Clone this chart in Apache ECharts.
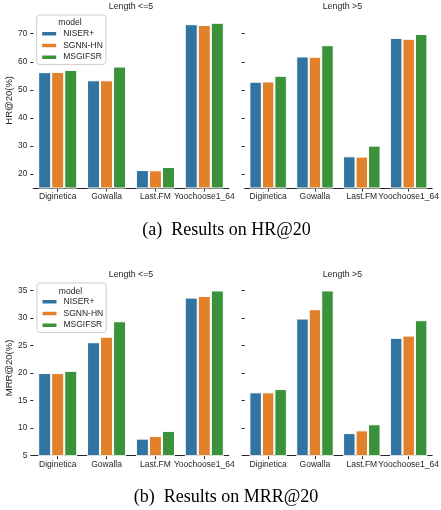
<!DOCTYPE html>
<html>
<head>
<meta charset="utf-8">
<script src="https://cdn.jsdelivr.net/npm/echarts@6/dist/echarts.min.js"></script>
<style>
  html, body { margin: 0; padding: 0; background: #fff; }
  #chart { width: 441px; height: 510px; }
</style>
</head>
<body>
<div id="chart"></div>
<script>
// Datasets and models
const categories = ['Diginetica', 'Gowalla', 'Last.FM', 'Yoochoose1_64'];
const models = ['NISER+', 'SGNN-HN', 'MSGIFSR'];

// HR@20 (%) for session length <= 5
const hrShortNiser = [56.3, 53.4, 21.4, 73.4];
const hrShortSgnn = [56.4, 53.4, 21.3, 73.1];
const hrShortMsgifsr = [57.1, 58.3, 22.5, 73.9];
// HR@20 (%) for session length > 5
const hrLongNiser = [52.9, 61.9, 26.3, 68.5];
const hrLongSgnn = [53.0, 61.8, 26.2, 68.2];
const hrLongMsgifsr = [55.0, 65.9, 30.1, 69.9];

// MRR@20 (%) for session length <= 5
const mrrShortNiser = [20.0, 25.6, 8.1, 33.7];
const mrrShortSgnn = [20.0, 26.6, 8.6, 34.0];
const mrrShortMsgifsr = [20.4, 29.4, 9.5, 35.0];
// MRR@20 (%) for session length > 5
const mrrLongNiser = [16.5, 29.9, 9.1, 26.4];
const mrrLongSgnn = [16.5, 31.6, 9.6, 26.8];
const mrrLongMsgifsr = [17.1, 35.0, 10.7, 29.6];

// Tick values on the y axes
const hrTicks = [20, 30, 40, 50, 60, 70];
const mrrTicks = [5, 10, 15, 20, 25, 30, 35];

const colors = ['#3274a1', '#e1812c', '#3a923a'];
const FONT = '"Liberation Sans", Arial, sans-serif';
const SERIF = '"Liberation Serif", "DejaVu Serif", serif';
const INK = '#262626';

const chart = echarts.init(document.getElementById('chart'), null, { renderer: 'canvas' });

// Panel geometry and y ranges
const panels = [
  { left: 33.3, top: 12.7, width: 195.4, height: 175.3, min: 15, max: 77.5, ticks: hrTicks, name: 'HR@20(%)', nameGap: 12, showLabels: true },
  { left: 244.7, top: 12.7, width: 195.4, height: 175.3, min: 15, max: 77.5, ticks: hrTicks, name: '', showLabels: false },
  { left: 33.3, top: 280.2, width: 195.4, height: 175.5, min: 5, max: 36.86, ticks: mrrTicks, name: 'MRR@20(%)', nameGap: 14, showLabels: true },
  { left: 244.7, top: 280.2, width: 195.4, height: 175.5, min: 5, max: 36.86, ticks: mrrTicks, name: '', showLabels: false }
];

const panelData = [
  [hrShortNiser, hrShortSgnn, hrShortMsgifsr],
  [hrLongNiser, hrLongSgnn, hrLongMsgifsr],
  [mrrShortNiser, mrrShortSgnn, mrrShortMsgifsr],
  [mrrLongNiser, mrrLongSgnn, mrrLongMsgifsr]
];

const grid = panels.map(p => ({ left: p.left, top: p.top, width: p.width, height: p.height, containLabel: false }));

const xAxis = panels.map((p, i) => ({
  type: 'category',
  gridIndex: i,
  data: categories,
  axisLine: { show: true, lineStyle: { color: INK, width: 1.2 } },
  axisTick: { show: true, alignWithLabel: true, length: 3.5, lineStyle: { color: INK, width: 1 } },
  axisLabel: { color: INK, fontFamily: FONT, fontSize: 8.5, margin: 4.5, interval: 0 },
  splitLine: { show: false }
}));

const yAxis = panels.map((p, i) => ({
  type: 'value',
  gridIndex: i,
  min: p.min,
  max: p.max,
  name: p.name,
  nameLocation: 'middle',
  nameGap: p.nameGap || 0,
  nameRotate: 90,
  nameTextStyle: { color: INK, fontFamily: FONT, fontSize: 9.5 },
  axisLine: { show: false },
  axisTick: { show: true, length: 3, customValues: p.ticks, lineStyle: { color: INK, width: 1 } },
  axisLabel: { show: p.showLabels, customValues: p.ticks, color: INK, fontFamily: FONT, fontSize: 8.3, margin: 6 },
  splitLine: { show: false }
}));

const series = [];
panelData.forEach((group, i) => {
  group.forEach((values, m) => {
    series.push({
      type: 'bar',
      name: models[m],
      xAxisIndex: i,
      yAxisIndex: i,
      data: values,
      barGap: '0%',
      barCategoryGap: '20%',
      itemStyle: { color: colors[m], borderColor: '#ffffff', borderWidth: 1 },
      emphasis: { disabled: true },
      animation: false
    });
  });
});

const legendBase = {
  orient: 'vertical',
  data: models,
  itemWidth: 16,
  itemHeight: 5.5,
  itemGap: 1.2,
  icon: 'rect',
  selectedMode: false,
  backgroundColor: 'rgba(255,255,255,0.85)',
  borderColor: '#cccccc',
  borderWidth: 1,
  borderRadius: 3,
  padding: [13.5, 3, 2, 3.5],
  textStyle: { color: INK, fontFamily: FONT, fontSize: 8.5, lineHeight: 10.5, padding: [0, 0, 0, 1] }
};

const legend = [
  Object.assign({}, legendBase, { left: 36.7, top: 15 }),
  Object.assign({}, legendBase, { left: 37, top: 283 })
];

function label(text, x, y, size, font, color) {
  return {
    type: 'text',
    x: x, y: y,
    z: 100,
    style: {
      text: text,
      fill: color || INK,
      font: size + 'px ' + (font || FONT),
      textAlign: 'center',
      textVerticalAlign: 'middle'
    }
  };
}

const graphic = [
  label('Length <=5', 131, 7, 8.8),
  label('Length >5', 342.4, 7, 8.8),
  label('Length <=5', 131, 274.3, 8.8),
  label('Length >5', 342.4, 274.3, 8.8),
  label('model', 70, 22.7, 8.6),
  label('model', 70.5, 291.7, 8.6),
  label('(a)  Results on HR@20', 226.5, 230, 18, SERIF, '#000'),
  label('(b)  Results on MRR@20', 226, 497.5, 18, SERIF, '#000')
];

chart.setOption({
  animation: false,
  backgroundColor: '#ffffff',
  grid: grid,
  xAxis: xAxis,
  yAxis: yAxis,
  legend: legend,
  series: series,
  graphic: graphic
});
</script>
</body>
</html>
